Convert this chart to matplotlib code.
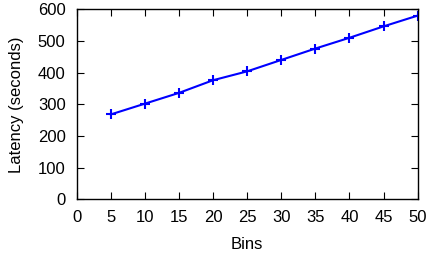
import matplotlib
matplotlib.use("Agg")
from matplotlib import pyplot as plt

plt.rcParams['font.family'] = ['Liberation Sans', 'DejaVu Sans']

bins = [5, 10, 15, 20, 25, 30, 35, 40, 45, 50]
latency = [268, 302, 336, 376, 404, 440, 476, 510, 546, 580]

fig = plt.figure(figsize=(4.27, 2.58), dpi=100)
ax = fig.add_axes([0.1796, 0.2275, 0.7984, 0.7365])

ax.plot(bins, latency, color='#0000ff', marker='+', markersize=7,
        markeredgewidth=1.5, linewidth=1.5)

ax.set_xlim(0, 50)
ax.set_ylim(0, 600)
ax.set_xticks(range(0, 51, 5))
ax.set_yticks(range(0, 601, 100))
ax.tick_params(direction='in', top=True, right=True, length=5,
               labelsize=12, colors='black', pad=8)
ax.set_xlabel("Bins", fontsize=12, labelpad=8)
ax.set_ylabel("Latency (seconds)", fontsize=12, labelpad=10)
for s in ax.spines.values():
    s.set_linewidth(1.0)

fig.savefig("out.png", dpi=100)
